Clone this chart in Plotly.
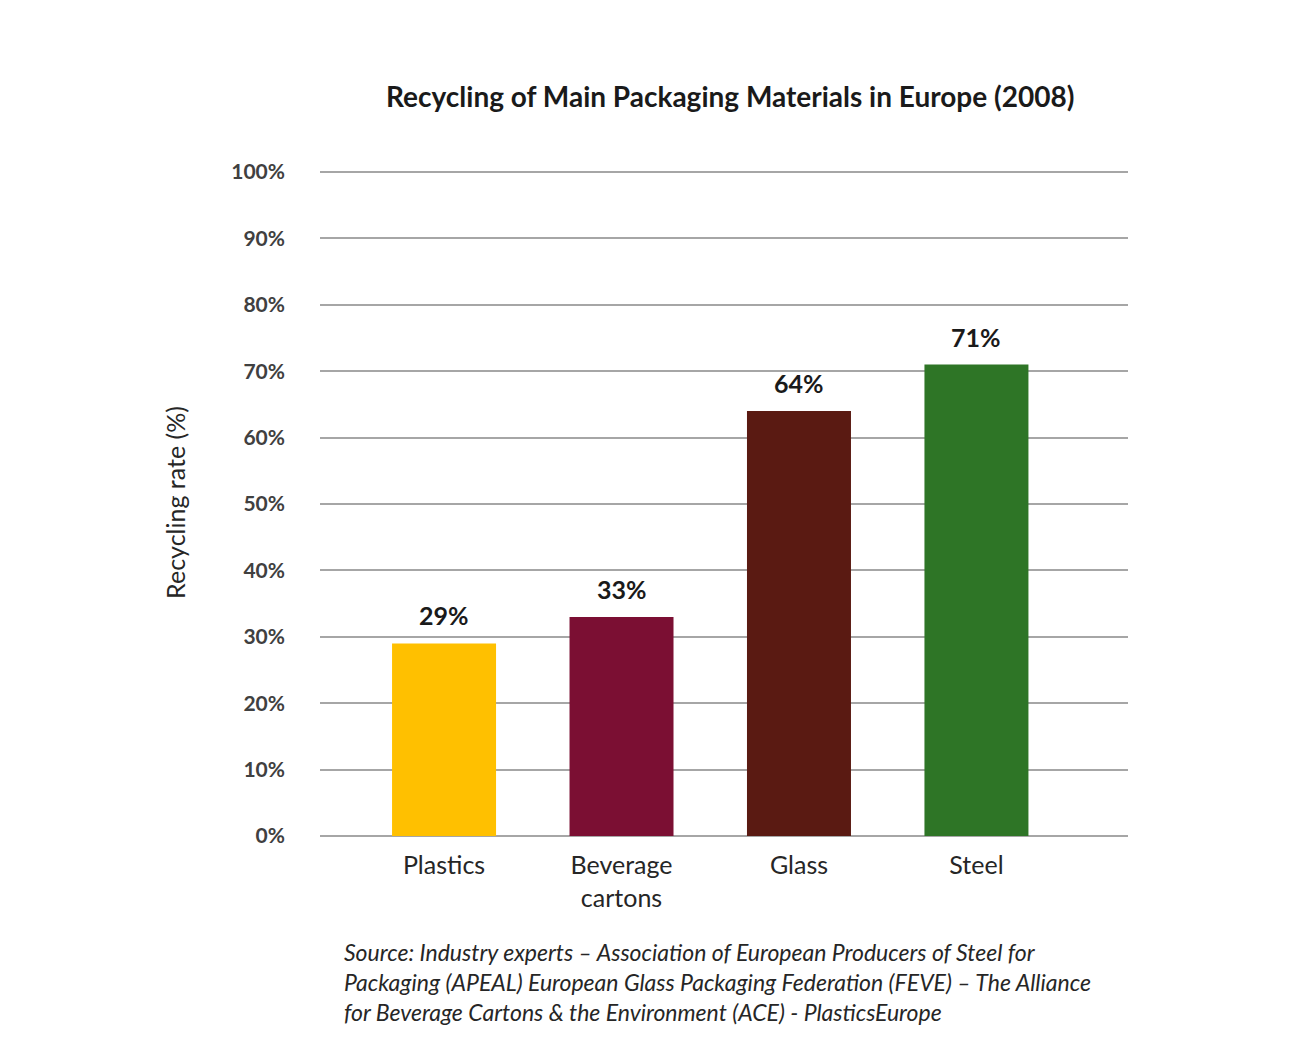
import plotly.graph_objects as go

# Recycling rates of packaging materials, Europe 2008
materials = ["Plastics", "Beverage<br>cartons", "Glass", "Steel"]
recycling_rate = [29, 33, 64, 71]
bar_colors = ["#FFC000", "#7B0F33", "#5A1A12", "#2E7526"]
y_ticks = [0, 10, 20, 30, 40, 50, 60, 70, 80, 90, 100]
y_tick_labels = [f"{v}%" for v in y_ticks]

positions = list(range(len(materials)))

fig = go.Figure()
fig.add_trace(go.Bar(
    x=positions,
    y=recycling_rate,
    width=0.586,
    marker=dict(color=bar_colors, line=dict(width=0)),
    hoverinfo="skip",
))

# value labels above each bar
value_labels = [
    dict(
        x=p, y=v, xref="x", yref="y",
        text=f"<b>{v}%</b>",
        showarrow=False,
        yanchor="middle", yshift=28,
        font=dict(family="Lato", size=25, color="#1a1a1a"),
    )
    for p, v in zip(positions, recycling_rate)
]

fig.update_layout(
    width=1293,
    height=1061,
    margin=dict(l=320, r=165, t=169, b=225),
    paper_bgcolor="white",
    plot_bgcolor="white",
    showlegend=False,
    font=dict(family="Lato", color="#262626"),
    xaxis=dict(
        range=[-0.699, 3.854],
        tickvals=positions,
        ticktext=materials,
        tickfont=dict(family="Lato", size=25, color="#262626"),
        showgrid=False,
        zeroline=False,
        showline=False,
        ticks="",
        ticklen=0,
        ticklabelstandoff=12,
    ),
    yaxis=dict(
        range=[0, 100.45],
        tickvals=y_ticks,
        ticktext=y_tick_labels,
        tickfont=dict(family="Lato", size=21, color="#404040", weight="bold"),
        showgrid=True,
        gridcolor="#a6a6a6",
        gridwidth=2,
        zeroline=True,
        zerolinecolor="#a6a6a6",
        zerolinewidth=2,
        showline=False,
        ticks="",
        ticklabelstandoff=34,
        title=dict(
            text="Recycling rate (%)",
            font=dict(family="Lato", size=25, color="#262626"),
            standoff=38,
        ),
    ),
    annotations=value_labels + [
        dict(
            text="<b>Recycling of Main Packaging Materials in Europe (2008)</b>",
            xref="paper", yref="paper",
            x=0.508, y=1.0, yshift=73,
            xanchor="center", yanchor="middle",
            showarrow=False,
            font=dict(family="Lato", size=28, color="#1a1a1a"),
        ),
        dict(
            text=("<i>Source: Industry experts \u2013 Association of European Producers of Steel for<br>"
                  "Packaging (APEAL) European Glass Packaging Federation (FEVE) \u2013 The Alliance<br>"
                  "for Beverage Cartons &amp; the Environment (ACE) - PlasticsEurope</i>"),
            xref="paper", yref="paper",
            x=0.0275, y=0.0, yshift=-100,
            xanchor="left", yanchor="top",
            align="left",
            showarrow=False,
            font=dict(family="Lato", size=23, color="#262626"),
        ),
    ],
)

fig.write_html("out.html")
